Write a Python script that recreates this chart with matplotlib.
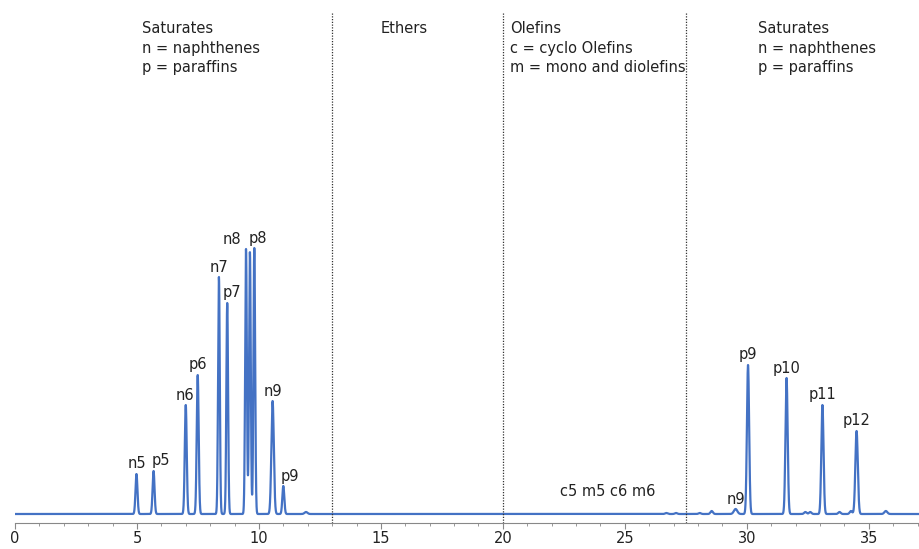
import matplotlib
matplotlib.use("Agg")
import matplotlib.pyplot as plt
from matplotlib.ticker import MultipleLocator
import numpy as np

# Peak table (retention time, height in arbitrary units)
peak_times = [4.98, 5.68, 7.0, 7.49, 8.36, 8.70, 9.47, 9.63, 9.81, 10.56, 11.0, 11.93,
              26.7, 27.1, 28.07, 28.56, 29.54, 30.05, 31.63, 32.4, 32.6, 33.1,
              33.8, 34.27, 34.5, 35.7]
peak_heights = [40, 43, 109, 139, 237, 211, 265, 262, 266, 113, 28, 2,
                1, 1, 1, 3, 5, 149, 136, 2, 2, 109,
                2, 3, 83, 3]
peak_widths = [0.04, 0.04, 0.04, 0.04, 0.035, 0.035, 0.035, 0.035, 0.035, 0.05, 0.04, 0.06,
               0.05, 0.05, 0.05, 0.05, 0.07, 0.045, 0.045, 0.05, 0.05, 0.045,
               0.05, 0.05, 0.05, 0.06]

# Peak labels: text, retention time of the labelled peak, sideways nudge (px)
label_names = ["n5", "p5", "n6", "p6", "n7", "p7", "n8", "p8", "n9", "p9",
               "n9", "p9", "p10", "p11", "p12"]
label_times = [4.98, 5.68, 7.0, 7.49, 8.36, 8.70, 9.47, 9.81, 10.56, 11.0,
               29.54, 30.05, 31.63, 33.1, 34.5]
label_dx = [0, 7, -1, 0, 0, 5, -14, 4, 0, 7, 0, 0, 0, 0, 0]

# Region boundaries and headings
region_edges = [13, 20, 27.5]
region_text = ["Saturates\nn = naphthenes\np = paraffins",
               "Ethers",
               "Olefins\nc = cyclo Olefins\nm = mono and diolefins",
               "Saturates\nn = naphthenes\np = paraffins"]
region_text_x = [5.2, 15.0, 20.3, 30.45]

blue = "#4472C4"

t = np.linspace(0, 37.1, 12000)
signal = np.zeros_like(t)
for rt, h, w in zip(peak_times, peak_heights, peak_widths):
    signal += h * np.exp(-0.5 * ((t - rt) / w) ** 2)

fig = plt.figure(figsize=(9.2, 5.49), dpi=100)
ax = fig.add_axes([15 / 920, 26 / 549, 905 / 920, 513 / 549])
ax.plot(t, signal, color=blue, linewidth=1.6, solid_joinstyle="round")

ax.set_xlim(0, 37.1)
ax.set_ylim(-9, 504)

for x in region_edges:
    ax.axvline(x, ymin=0, ymax=0.996, color="#333333", linestyle=(0, (1, 1.2)), linewidth=0.9)

for txt, x in zip(region_text, region_text_x):
    ax.text(x, 493, txt, ha="left", va="top", fontsize=10.5, color="#222222", linespacing=1.38)

for name, rt, dx in zip(label_names, label_times, label_dx):
    top = peak_heights[peak_times.index(rt)]
    ax.annotate(name, xy=(rt, top), xytext=(dx, 10), textcoords="offset pixels",
                ha="center", va="center", fontsize=10.5, color="#222222")

ax.text(24.3, 23, "c5 m5 c6 m6", ha="center", va="center", fontsize=10.5, color="#222222")

for s in ["left", "top", "right"]:
    ax.spines[s].set_visible(False)
ax.spines["bottom"].set_color("#888888")
ax.set_yticks([])
ax.xaxis.set_major_locator(MultipleLocator(5))
ax.xaxis.set_minor_locator(MultipleLocator(1))
ax.tick_params(axis="x", which="major", direction="out", length=4, color="#888888",
               labelsize=10.5, labelcolor="#222222", pad=2)
ax.tick_params(axis="x", which="minor", direction="out", length=2.5, color="#888888")

fig.savefig("out.png", dpi=100)
